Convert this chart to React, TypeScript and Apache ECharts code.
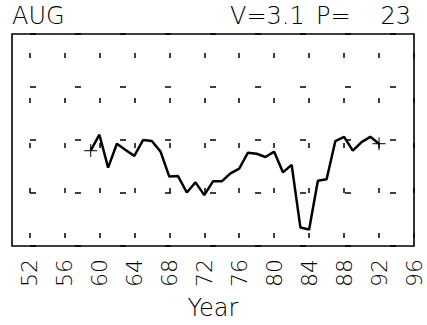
import React, { useEffect, useRef } from "react";
import * as echarts from "echarts";

const years = [59, 60, 61, 62, 63, 64, 65, 66, 67, 68, 69, 70, 71, 72, 73, 74, 75, 76, 77, 78, 79, 80, 81, 82, 83, 84, 85, 86, 87, 88, 89, 90, 91, 92];
const values = [1.80, 2.10, 1.48, 1.93, 1.81, 1.70, 2.00, 1.98, 1.78, 1.31, 1.32, 1.01, 1.20, 0.96, 1.22, 1.22, 1.37, 1.46, 1.76, 1.74, 1.68, 1.78, 1.39, 1.53, 0.35, 0.31, 1.23, 1.26, 1.98, 2.06, 1.80, 1.96, 2.06, 1.93];
const markerYears = [59, 92];
const markerValues = [1.80, 1.93];
const xMin = 50;
const xMax = 96;
const labelStart = 52;
const labelStep = 4;
const titleLeft = "AUG";
const titleRightParts = ["V=3.1", "P=", "23"];
const xName = "Year";

const FONT = "DejaVu Sans";
const txt = { fontFamily: FONT, fontWeight: 200, fontSize: 24, fill: "#000" };

export default function App() {
  const ref = useRef<HTMLDivElement>(null);
  useEffect(() => {
    if (!ref.current) return;
    const chart = echarts.init(ref.current, null, { renderer: "svg" });
    const categories: string[] = [];
    for (let y = xMin; y <= xMax; y++) categories.push(String(y));
    const showTick = (_i: number, v: string) => (Number(v) - labelStart) % labelStep === 0;
    chart.setOption({
      animation: false,
      backgroundColor: "#fff",
      graphic: [
        { type: "text", x: 12, y: 4, style: { ...txt, text: titleLeft } },
        { type: "text", x: 230, y: 4, style: { ...txt, text: titleRightParts[0] } },
        { type: "text", x: 316, y: 4, style: { ...txt, text: titleRightParts[1] } },
        { type: "text", x: 411, y: 4, style: { ...txt, text: titleRightParts[2], align: "right" } },
      ],
      grid: { left: 12, right: 13, top: 34, bottom: 78, show: true, borderColor: "#000", borderWidth: 1.6, backgroundColor: "transparent" },
      xAxis: {
        type: "category",
        data: categories,
        boundaryGap: false,
        axisLine: { show: false },
        axisTick: { show: false },
        axisLabel: {
          interval: showTick,
          rotate: 90,
          margin: 13,
          fontFamily: FONT,
          fontWeight: 200,
          fontSize: 22,
          color: "#000",
        },
        splitLine: {
          show: true,
          interval: showTick,
          lineStyle: { color: "#000", width: 1.5, type: [5, 40], dashOffset: 26 },
        },
        name: xName,
        nameLocation: "middle",
        nameGap: 50,
        nameTextStyle: { fontFamily: FONT, fontWeight: 200, fontSize: 24, color: "#000", verticalAlign: "top" },
      },
      yAxis: {
        type: "value",
        min: 0,
        max: 4,
        interval: 1,
        axisLine: { show: false },
        axisTick: { show: false },
        axisLabel: { show: false },
        splitLine: {
          show: true,
          lineStyle: { color: "#000", width: 1.5, type: [6, 39], dashOffset: 27 },
        },
      },
      series: [
        {
          type: "line",
          data: years.map((y, i) => [String(y), values[i]]),
          symbol: "none",
          lineStyle: { color: "#000", width: 2.5 },
          z: 3,
        },
        {
          type: "scatter",
          data: markerYears.map((y, i) => [String(y), markerValues[i]]),
          symbol: "path://M0,5L10,5M5,0L5,10",
          symbolSize: 13,
          itemStyle: { color: "transparent", borderColor: "#000", borderWidth: 1.2 },
          z: 4,
        },
      ],
    });
    return () => chart.dispose();
  }, []);
  return <div ref={ref} style={{ position: "fixed", left: 0, top: 0, width: 427, height: 325 }} />;
}
